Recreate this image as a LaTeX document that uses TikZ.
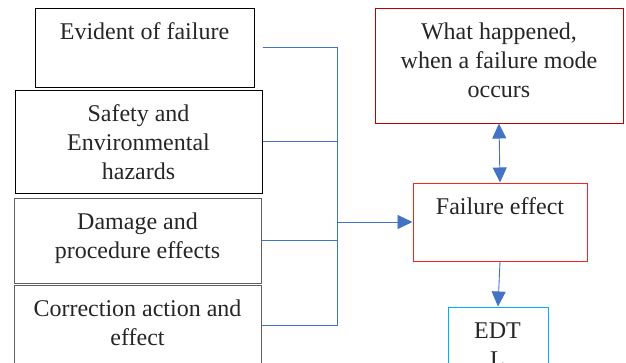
\documentclass[tikz,border=0pt]{standalone}
\usepackage{fontspec}
\setmainfont{Liberation Serif}
\usetikzlibrary{arrows.meta}
\definecolor{lblue}{HTML}{4472C4}
\definecolor{dred}{HTML}{C00000}
\definecolor{bred}{HTML}{FF2020}
\definecolor{cyanb}{HTML}{00B0F0}
\definecolor{gbord}{HTML}{606060}
\tikzset{
  box/.style={draw, line width=1pt, inner sep=0pt, minimum width=#1},
  txt/.style={anchor=north, inner sep=0pt, align=center, text=black!85,
     font=\rmfamily\fontsize{24}{29}\selectfont, yshift=-11.7pt},
  conn/.style={draw=lblue, line width=0.9pt},
  arr/.style={conn, -{Triangle[length=15pt,width=14pt]}},
  darr/.style={conn, {Triangle[length=15pt,width=14pt]}-{Triangle[length=15pt,width=14pt]}},
}
\begin{document}
\begin{tikzpicture}[x=1pt,y=-1pt]
\useasboundingbox (0,0) rectangle (626,362);
% left boxes
\node[box=219pt, minimum height=79pt, draw=black] (b1) at (144.5,47.5) {};
\node[box=247pt, minimum height=103pt, draw=black] (b2) at (138.5,141.5) {};
\node[box=247pt, minimum height=85pt, draw=gbord] (b3) at (137.5,240.5) {};
\node[box=247pt, minimum height=80pt, draw=gbord] (b4) at (137.5,325) {};
% right boxes
\node[box=248pt, minimum height=115pt, draw=dred] (wh) at (499,65.5) {};
\node[box=174pt, minimum height=78pt, draw=bred] (fe) at (500,222) {};
\node[box=100pt, minimum height=66pt, draw=cyanb] (edt) at (498,340) {};
% texts
\node[txt] (t1) at (b1.north) {\strut Evident of failure};
\node[txt] (t2) at (b2.north) {\strut Safety and\\Environmental\\hazards};
\node[txt] (t3) at (b3.north) {\strut Damage and\\procedure effects};
\node[txt] (t4) at (b4.north) {\strut Correction action and\\effect};
\node[txt] (t5) at (wh.north) {\strut What happened,\\when a failure mode\\occurs};
\node[txt] (t6) at (fe.north) {\strut Failure effect};
\node[txt] (t7) at ([xshift=-0.5pt]edt.north) {\strut EDT\\L};
% connectors
\coordinate (jx) at (337,222);
\draw[conn] ([xshift=8pt]b1.east) -| (jx |- b4.east) -- (b4.east);
\draw[conn] (b2.east) -- (b2.east -| jx);
\draw[conn] (b3.east) -- (b3.east -| jx);
\draw[arr] (jx) -- (fe.west);
\draw[darr] (wh.south) -- (fe.north);
\draw[arr] (fe.south) -- (edt.north);
\end{tikzpicture}
\end{document}
